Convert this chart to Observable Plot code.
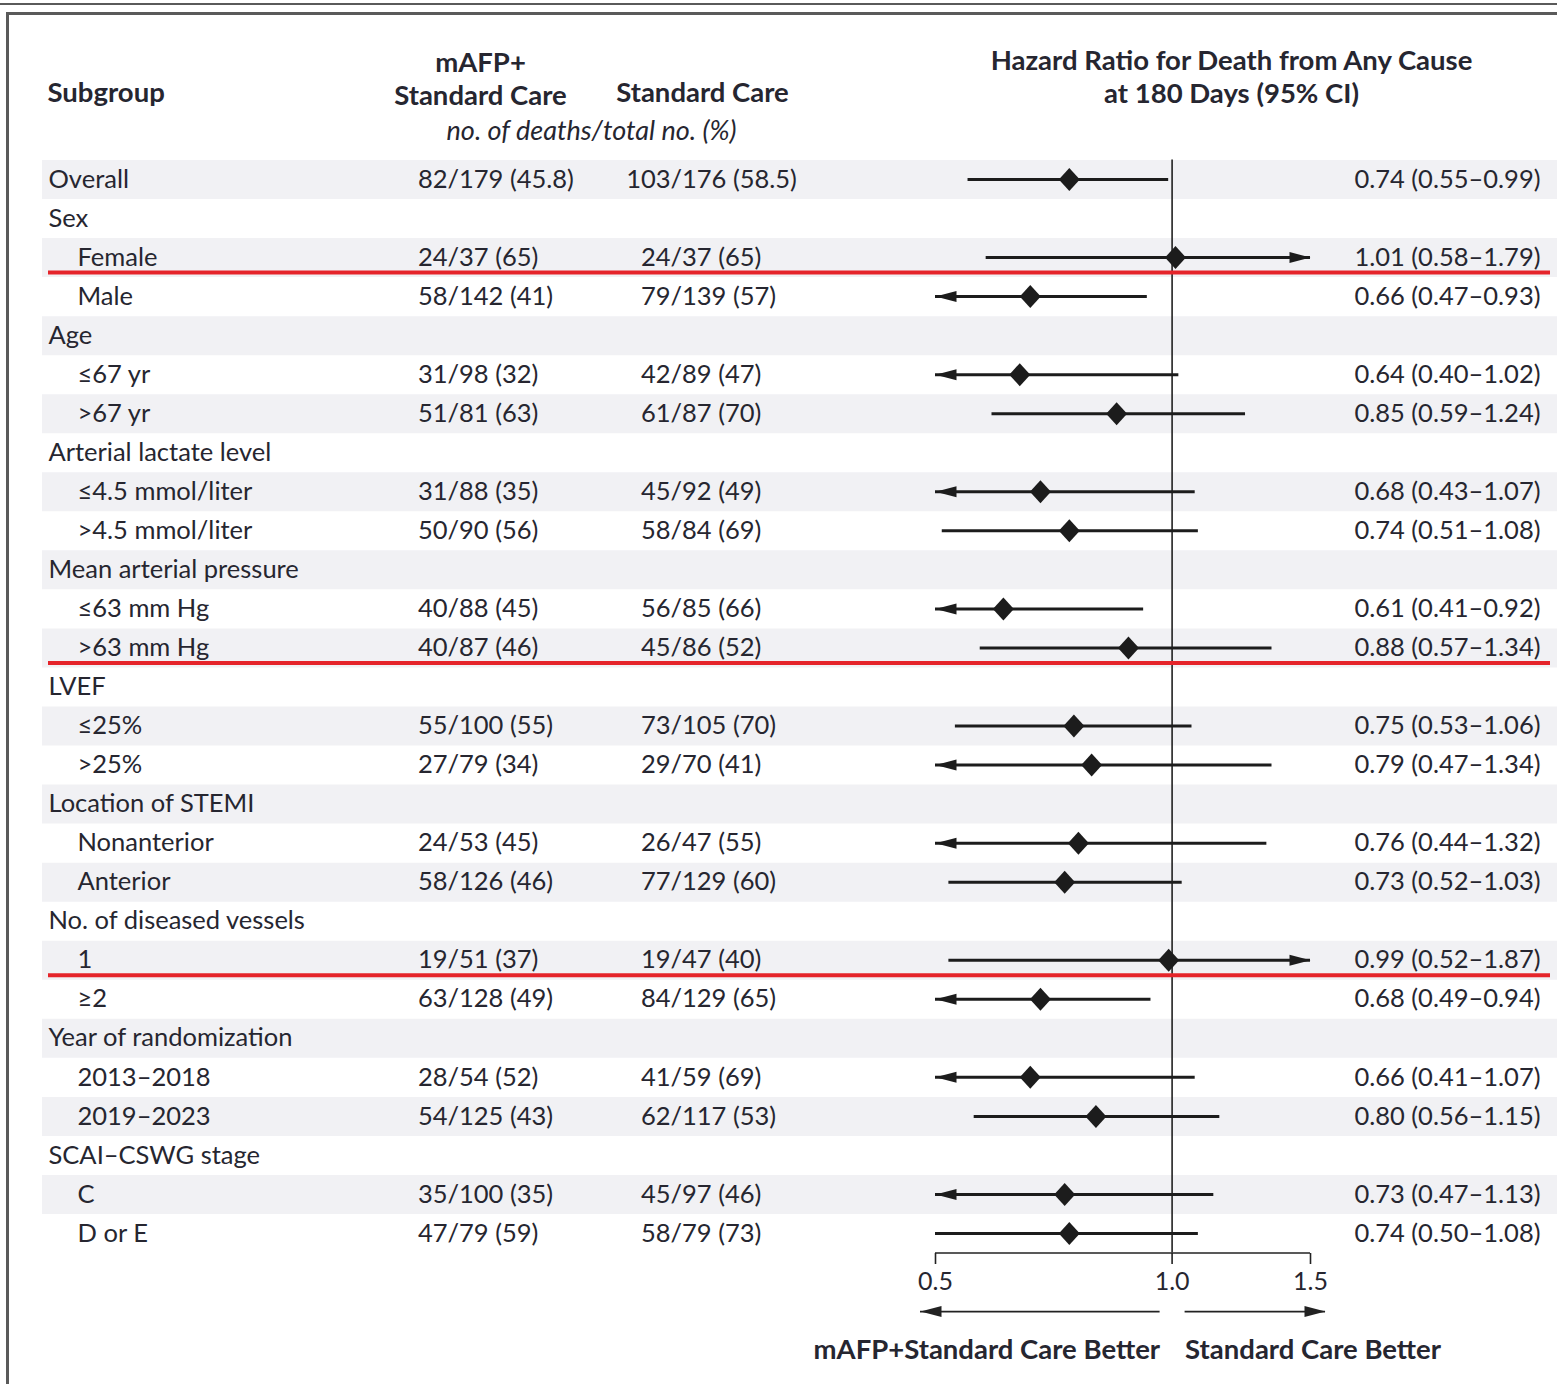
<!DOCTYPE html>
<html>
<head>
<meta charset="utf-8">
<script src="https://cdn.jsdelivr.net/npm/d3@7"></script>
<script src="https://cdn.jsdelivr.net/npm/@observablehq/plot@0.6"></script>
<style>
  html, body { margin: 0; padding: 0; background: #fff; }
  #wrap { position: relative; width: 1557px; height: 1384px; overflow: hidden; }
  #wrap svg { position: absolute; left: 0; top: 0; }
  .line { position: absolute; background: #5a5a5a; }
</style>
</head>
<body>
<div id="wrap">
  <div class="line" style="left:0;top:3px;width:1557px;height:2px"></div>
  <div class="line" style="left:6px;top:12px;width:1551px;height:3px"></div>
  <div class="line" style="left:6px;top:12px;width:3px;height:1372px"></div>
</div>
<script>
// ---------- data ----------
const subgroups = ["Overall","Sex","Female","Male","Age","≤67 yr",">67 yr","Arterial lactate level","≤4.5 mmol/liter",">4.5 mmol/liter","Mean arterial pressure","≤63 mm Hg",">63 mm Hg","LVEF","≤25%",">25%","Location of STEMI","Nonanterior","Anterior","No. of diseased vessels","1","≥2","Year of randomization","2013–2018","2019–2023","SCAI–CSWG stage","C","D or E"];
const indent = [0,0,1,1,0,1,1,0,1,1,0,1,1,0,1,1,0,1,1,0,1,1,0,1,1,0,1,1];
const mafpDeaths = ["82/179 (45.8)",null,"24/37 (65)","58/142 (41)",null,"31/98 (32)","51/81 (63)",null,"31/88 (35)","50/90 (56)",null,"40/88 (45)","40/87 (46)",null,"55/100 (55)","27/79 (34)",null,"24/53 (45)","58/126 (46)",null,"19/51 (37)","63/128 (49)",null,"28/54 (52)","54/125 (43)",null,"35/100 (35)","47/79 (59)"];
const stdDeaths = ["103/176 (58.5)",null,"24/37 (65)","79/139 (57)",null,"42/89 (47)","61/87 (70)",null,"45/92 (49)","58/84 (69)",null,"56/85 (66)","45/86 (52)",null,"73/105 (70)","29/70 (41)",null,"26/47 (55)","77/129 (60)",null,"19/47 (40)","84/129 (65)",null,"41/59 (69)","62/117 (53)",null,"45/97 (46)","58/79 (73)"];
const hr   = [0.74,null,1.01,0.66,null,0.64,0.85,null,0.68,0.74,null,0.61,0.88,null,0.75,0.79,null,0.76,0.73,null,0.99,0.68,null,0.66,0.80,null,0.73,0.74];
const ciLo = [0.55,null,0.58,0.47,null,0.40,0.59,null,0.43,0.51,null,0.41,0.57,null,0.53,0.47,null,0.44,0.52,null,0.52,0.49,null,0.41,0.56,null,0.47,0.50];
const ciHi = [0.99,null,1.79,0.93,null,1.02,1.24,null,1.07,1.08,null,0.92,1.34,null,1.06,1.34,null,1.32,1.03,null,1.87,0.94,null,1.07,1.15,null,1.13,1.08];
const highlighted = ["Female", ">63 mm Hg", "1"];
const xTicks = [0.5, 1.0, 1.5];
const betterLeft = "mAFP+Standard Care Better";
const betterRight = "Standard Care Better";

// ---------- table ----------
const split = s => s ? [s.slice(0, s.indexOf("/")), s.slice(s.indexOf("/"))] : [null, null];
const rows = subgroups.map((s, i) => {
  const [mNum, mRest] = split(mafpDeaths[i]);
  const [sNum, sRest] = split(stdDeaths[i]);
  return {
    i, label: s, indent: indent[i], mNum, mRest, sNum, sRest,
    hr: hr[i], lo: ciLo[i], hi: ciHi[i],
    hrText: hr[i] == null ? null : `${hr[i].toFixed(2)} (${ciLo[i].toFixed(2)}–${ciHi[i].toFixed(2)})`
  };
});
const est = rows.filter(d => d.hr != null);
const [xMin, xMax] = [xTicks[0], xTicks[xTicks.length - 1]];
const clampX = v => Math.max(xMin, Math.min(xMax, v));
const axisRow = rows.length - 0.5;
const dirRow = rows.length + 1;
const dirLabelRow = rows.length + 2;

// ---------- layout ----------
const W = 1557, H = 1384;
const FONT = "Lato, 'Open Sans', sans-serif";
const INK = "#262630";
const FS = 25.5;
const colLabel = 48, colIndent = 29, colMafpSlash = 447, colStdSlash = 670;

const triRight = {draw(ctx) { ctx.moveTo(0, 0); ctx.lineTo(-21, -5.5); ctx.lineTo(-21, 5.5); ctx.closePath(); }};
const triLeft  = {draw(ctx) { ctx.moveTo(0, 0); ctx.lineTo(21, -5.5); ctx.lineTo(21, 5.5); ctx.closePath(); }};
const diamond = {draw(ctx) { ctx.moveTo(0, -11.5); ctx.lineTo(10.5, 0); ctx.lineTo(0, 11.5); ctx.lineTo(-10.5, 0); ctx.closePath(); }};

const txt = {fontFamily: FONT, fontSize: FS, fill: INK, frameAnchor: "left", y: "i"};
const head = {frameAnchor: "top-left", lineAnchor: "middle", text: d => d, fontFamily: FONT, fontSize: 27.5, fontWeight: 700, fill: INK};

const chart = Plot.plot({
  width: W, height: H,
  marginLeft: 0, marginRight: 0, marginTop: 0, marginBottom: H - 1253,
  style: {fontFamily: FONT, color: INK, background: "transparent", overflow: "visible"},
  x: {type: "log", domain: [xMin, xMax], range: [935, 1310], label: null},
  y: {domain: [0, rows.length - 1], range: [179, 1233], axis: null},
  marks: [
    // shaded bands
    Plot.ruleY(rows.filter(d => d.i % 2 === 0), {y: "i", stroke: "#f1f1f4", strokeWidth: 39, insetLeft: 42}),
    // reference line at HR = 1
    Plot.ruleX([1], {y1: -0.5, y2: axisRow, stroke: "#222", strokeWidth: 1.6}),
    // CI lines
    Plot.ruleY(est, {y: "i", x1: d => clampX(d.lo), x2: d => clampX(d.hi), stroke: "#1c1c1c", strokeWidth: 3}),
    // clipped-CI arrowheads
    Plot.dot(est.filter(d => d.hi > xMax), {x: () => xMax, y: "i", symbol: triRight, fill: "#1c1c1c", stroke: null, r: 5}),
    Plot.dot(est.filter(d => d.lo < xMin), {x: () => xMin, y: "i", symbol: triLeft, fill: "#1c1c1c", stroke: null, r: 5}),
    // point estimates
    Plot.dot(est, {x: "hr", y: "i", symbol: diamond, fill: "#1c1c1c", stroke: null, r: 5}),
    // text columns
    Plot.text(rows.filter(d => !d.indent), {...txt, text: "label", dx: colLabel, textAnchor: "start"}),
    Plot.text(rows.filter(d => d.indent), {...txt, text: "label", dx: colLabel + colIndent, textAnchor: "start"}),
    Plot.text(rows.filter(d => d.mNum), {...txt, text: "mNum", dx: colMafpSlash, textAnchor: "end"}),
    Plot.text(rows.filter(d => d.mNum), {...txt, text: "mRest", dx: colMafpSlash, textAnchor: "start"}),
    Plot.text(rows.filter(d => d.sNum), {...txt, text: "sNum", dx: colStdSlash, textAnchor: "end"}),
    Plot.text(rows.filter(d => d.sNum), {...txt, text: "sRest", dx: colStdSlash, textAnchor: "start"}),
    Plot.text(est, {...txt, text: "hrText", frameAnchor: "right", dx: -17, textAnchor: "end"}),
    // highlight underlines
    Plot.ruleY(rows.filter(d => highlighted.includes(d.label)), {y: "i", dy: 15, stroke: "#e5242a", strokeWidth: 4, insetLeft: 48, insetRight: 7}),
    // axis
    Plot.ruleY([axisRow], {x1: xMin, x2: xMax, stroke: "#222", strokeWidth: 1.6}),
    Plot.axisX({ticks: xTicks, tickFormat: d => d.toFixed(1), tickSize: 11, tickPadding: 8, fontSize: 25, fontFamily: FONT, stroke: "#222", strokeWidth: 1.6, fill: INK}),
    // direction arrows
    Plot.ruleY([dirRow], {x1: xMin, x2: 1, insetLeft: -15, insetRight: 12, stroke: "#222", strokeWidth: 1.8}),
    Plot.ruleY([dirRow], {x1: 1, x2: xMax, insetLeft: 13, insetRight: -15, stroke: "#222", strokeWidth: 1.8}),
    Plot.dot([dirRow], {x: () => xMin, y: d => d, dx: -15, symbol: triLeft, fill: "#222", stroke: null, r: 5}),
    Plot.dot([dirRow], {x: () => xMax, y: d => d, dx: 15, symbol: triRight, fill: "#222", stroke: null, r: 5}),
    Plot.text([betterLeft], {x: () => 1, y: () => dirLabelRow, text: d => d, dx: -12, textAnchor: "end", fontFamily: FONT, fontSize: 27.5, fontWeight: 700, fill: INK}),
    Plot.text([betterRight], {x: () => 1, y: () => dirLabelRow, text: d => d, dx: 13, textAnchor: "start", fontFamily: FONT, fontSize: 27.5, fontWeight: 700, fill: INK}),
    // headers
    Plot.text(["Subgroup"], {...head, dx: 47, dy: 93, textAnchor: "start"}),
    Plot.text(["mAFP+"], {...head, dx: 480, dy: 63, textAnchor: "middle"}),
    Plot.text(["Standard Care"], {...head, dx: 480, dy: 96, textAnchor: "middle"}),
    Plot.text(["Standard Care"], {...head, dx: 702, dy: 93, textAnchor: "middle"}),
    Plot.text(["no. of deaths/total no. (%)"], {frameAnchor: "top-left", lineAnchor: "middle", dx: 591, dy: 131, text: d => d, textAnchor: "middle", fontFamily: FONT, fontSize: 27, fontStyle: "italic", fill: INK}),
    Plot.text(["Hazard Ratio for Death from Any Cause"], {...head, dx: 1231, dy: 61, textAnchor: "middle"}),
    Plot.text(["at 180 Days (95% CI)"], {...head, dx: 1231, dy: 94, textAnchor: "middle"})
  ]
});
document.getElementById("wrap").appendChild(chart);
</script>
</body>
</html>
